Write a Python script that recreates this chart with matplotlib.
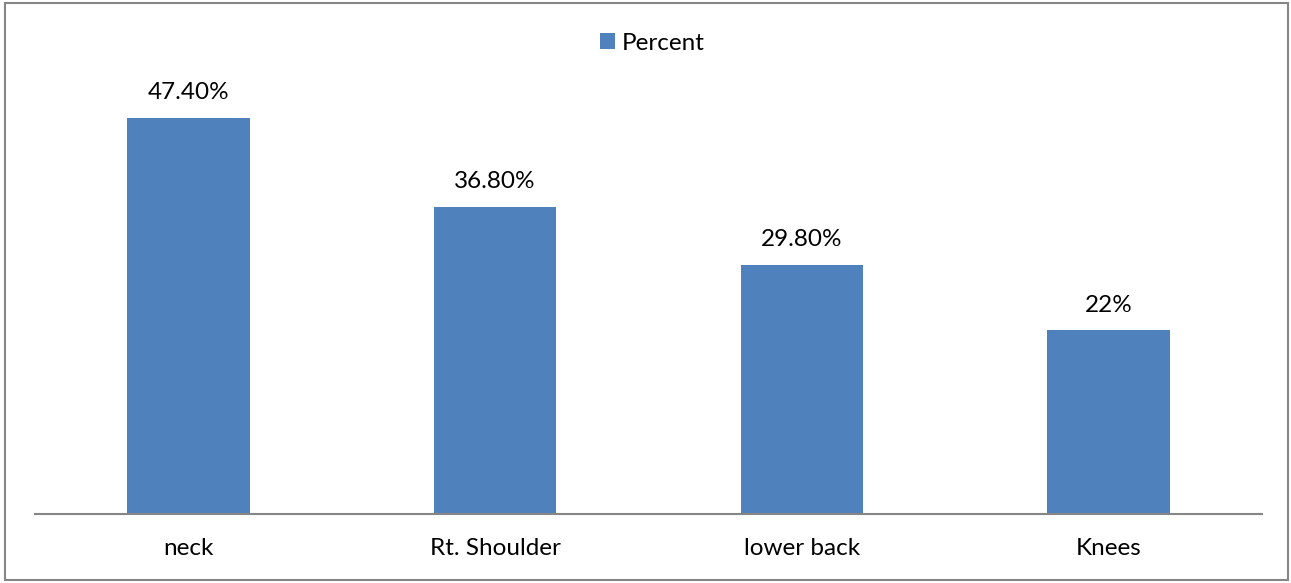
import matplotlib
matplotlib.use("Agg")
import matplotlib.pyplot as plt
from matplotlib.patches import Rectangle, Patch

categories = ["neck", "Rt. Shoulder", "lower back", "Knees"]
values = [47.4, 36.8, 29.8, 22.0]
value_labels = ["47.40%", "36.80%", "29.80%", "22%"]
series_name = "Percent"

plt.rcParams['font.family'] = ['Lato', 'DejaVu Sans']

W, H = 1291, 583
fig = plt.figure(figsize=(W / 100, H / 100), dpi=100)
ax = fig.add_axes([35 / W, (H - 514) / H, (1262 - 35) / W, (514 - 96.5) / H])

color = "#4F81BD"
x = list(range(len(categories)))
bars = ax.bar(x, values, width=0.4, color=color)
ax.set_xlim(-0.5, len(categories) - 0.5)
ax.set_ylim(0, 50)

fs = 17.5
for xi, v, lab in zip(x, values, value_labels):
    ax.annotate(lab, (xi, v), xytext=(0, 13.5), textcoords="offset points",
                ha="center", va="baseline", fontsize=fs, color="#000000")

ax.set_xticks(x)
ax.set_xticklabels(categories, fontsize=fs)
ax.tick_params(axis="x", length=0, pad=17)
ax.set_yticks([])
for s in ["top", "right", "left"]:
    ax.spines[s].set_visible(False)
ax.spines["bottom"].set_color("#868686")
ax.spines["bottom"].set_linewidth(1.5)

fig.legend(handles=[Patch(facecolor=color, label=series_name)],
           loc="center", bbox_to_anchor=(652 / W, 1 - 43 / H), frameon=False,
           fontsize=fs, handlelength=0.65, handleheight=0.65, handletextpad=0.25)

fig.patches.append(Rectangle((5 / W, 3 / H), (1288 - 5) / W, (580 - 3) / H,
                             transform=fig.transFigure, fill=False,
                             edgecolor="#868686", linewidth=1.5))

fig.savefig("out.png", dpi=100)
